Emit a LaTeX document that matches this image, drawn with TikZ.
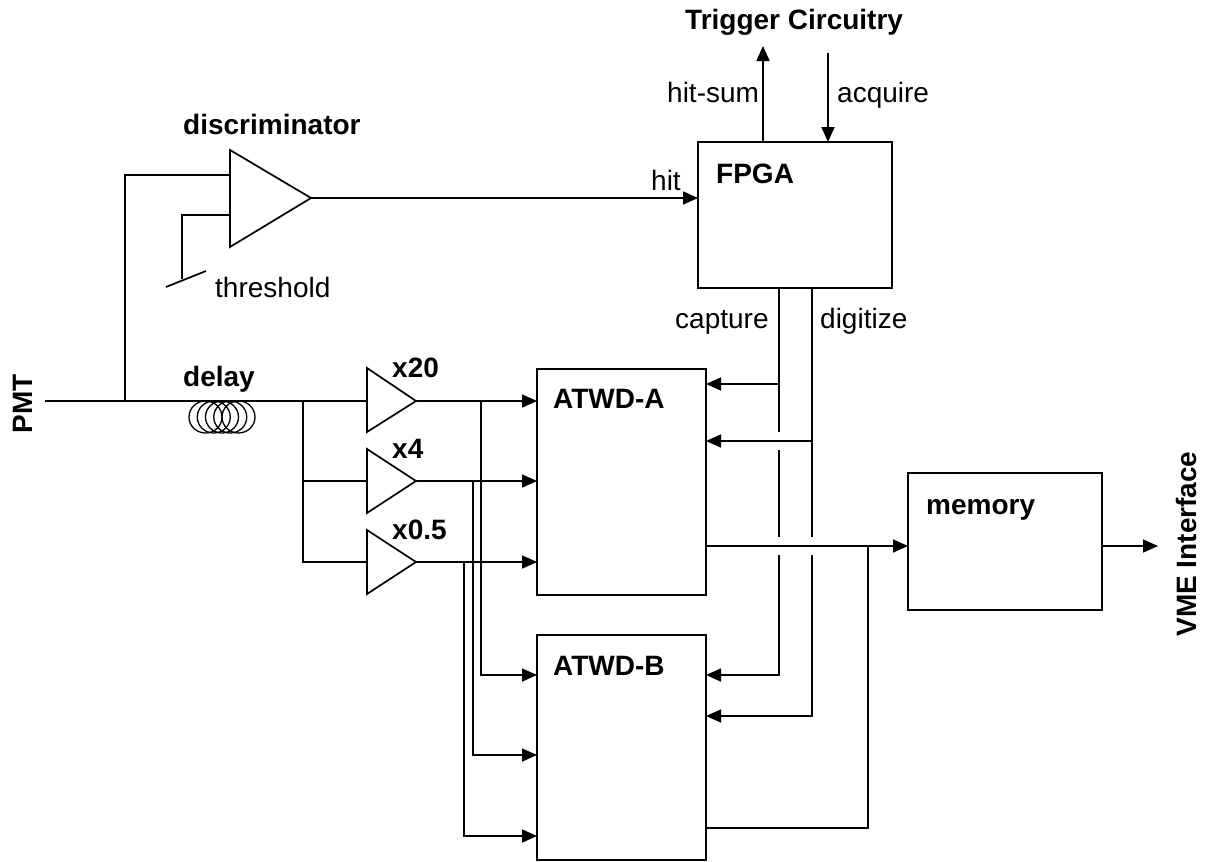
\documentclass[tikz,border=0pt]{standalone}
\usepackage{fontspec}
\setmainfont{Liberation Sans}
\usetikzlibrary{arrows.meta}
\tikzset{
  x=1pt,y=-1pt,
  wire/.style={line width=1.7pt,line join=miter},
  arr/.style={wire,-{Triangle[length=15pt,width=13pt]},shorten >=0pt},
  box/.style={draw,line width=1.7pt,anchor=north west,inner sep=0pt,outer sep=0pt},
  amp/.style={draw,line width=1.7pt,line join=miter},
  txt/.style={font=\fontsize{28}{32}\selectfont,inner sep=0pt},
  btxt/.style={font=\fontsize{28}{32}\selectfont\bfseries,inner sep=0pt},
  coil/.style={draw,line width=1.3pt},
}
\begin{document}
\begin{tikzpicture}
\useasboundingbox (0,0) rectangle (1205,862);
% boxes
\node[box,minimum width=194pt,minimum height=146pt] (fpga) at (698,142) {};
\node[box,minimum width=169pt,minimum height=226pt] (atwda) at (537,369) {};
\node[box,minimum width=169pt,minimum height=225pt] (atwdb) at (537,635) {};
\node[box,minimum width=194pt,minimum height=137pt] (mem) at (908,473) {};
\node[btxt,anchor=base west] (lf) at (716,183) {FPGA};
\node[btxt,anchor=base west] (la) at (553,408) {ATWD-A};
\node[btxt,anchor=base west] (lb) at (553,675) {ATWD-B};
\node[btxt,anchor=base west] (lm) at (926,514) {memory};
% discriminator
\coordinate (disctop) at (230,150);
\coordinate (discbot) at (230,247);
\coordinate (disctip) at (311,198);
\draw[amp] (disctop) -- (disctip) -- (discbot) -- cycle;
% amplifiers
\coordinate (ampain) at (367,401);
\coordinate (ampaout) at (416,401);
\coordinate (ampbin) at (367,481);
\coordinate (ampbout) at (416,481);
\coordinate (ampcin) at (367,562);
\coordinate (ampcout) at (416,562);
\draw[amp] (367,368) -- (ampaout) -- (367,432) -- cycle;
\draw[amp] (367,449) -- (ampbout) -- (367,513) -- cycle;
\draw[amp] (367,530) -- (ampcout) -- (367,594) -- cycle;
% input
\coordinate (pmt) at (45,401);
\coordinate (j1) at (125,401);
\coordinate (j2) at (125,175);
\coordinate (j3) at (230,175);
\coordinate (j4) at (303,401);
\coordinate (j5) at (303,481);
\coordinate (j6) at (303,562);
\draw[wire] (pmt) -- (ampain);
\draw[wire] (j1) -- (j2) -- (j3);
\draw[wire] (j4) -- (j6) -- (ampcin);
\draw[wire] (j5) -- (ampbin);
% coil
\foreach \cx in {205.5,213.75,222,230.25,238.5}{
  \draw[coil] (\cx,417) ellipse (16.5pt and 16pt);
}
% threshold
\coordinate (t1) at (230,215);
\coordinate (t2) at (182,215);
\coordinate (t3) at (182,279);
\draw[wire] (t1) -- (t2) -- (t3);
\coordinate (s1) at (166,287);
\coordinate (s2) at (206,271);
\draw[wire] (s1) -- (s2);
% hit
\draw[arr] (disctip) -- (fpga.west |- disctip);
% trigger
\coordinate (hs) at (763,46);
\coordinate (aq) at (828,53);
\draw[arr] (hs |- fpga.north) -- (hs);
\draw[arr] (aq) -- (aq |- fpga.north);
% amp outputs
\draw[arr] (ampaout) -- (537,401);
\draw[arr] (ampbout) -- (537,481);
\draw[arr] (ampcout) -- (537,562);
\draw[arr] (481,401) -- (481,675) -- (537,675);
\draw[arr] (473,481) -- (473,755) -- (537,755);
\draw[arr] (464,562) -- (464,836) -- (537,836);
% capture / digitize
\coordinate (cap) at (779,288);
\coordinate (dig) at (812,288);
\draw[wire] (cap) -- (779,432);
\draw[wire] (779,450) -- (779,537);
\draw[arr] (779,555) -- (779,675) -- (706,675);
\draw[arr] (779,384) -- (706,384);
\draw[wire] (dig) -- (812,537);
\draw[arr] (812,555) -- (812,716) -- (706,716);
\draw[arr] (812,441) -- (706,441);
% output
\draw[arr] (706,546) -- (908,546);
\draw[wire] (706,828) -- (868,828) -- (868,546);
\draw[arr] (1102,546) -- (1158,546);
% labels
\node[btxt,anchor=base west] (ltc) at (685,29) {Trigger Circuitry};
\node[btxt,anchor=base west] (ld) at (183,134) {discriminator};
\node[btxt,anchor=base west] (ldl) at (183,386) {delay};
\node[btxt,anchor=base west] (l20) at (392,377) {x20};
\node[btxt,anchor=base west] (l4) at (392,458) {x4};
\node[btxt,anchor=base west] (l05) at (392,539) {x0.5};
\node[txt,anchor=base west] (lhit) at (651,190) {hit};
\node[txt,anchor=base west] (lhs) at (667,102) {hit-sum};
\node[txt,anchor=base west] (lacq) at (837,102) {acquire};
\node[txt,anchor=base west] (lth) at (215,297) {threshold};
\node[txt,anchor=base west] (lcap) at (675,328) {capture};
\node[txt,anchor=base west] (ldg) at (820,328) {digitize};
\node[btxt,anchor=base,rotate=90] (lpmt) at (32,404) {PMT};
\node[btxt,anchor=base,rotate=90] (lvme) at (1196,544) {VME Interface};
\end{tikzpicture}
\end{document}
